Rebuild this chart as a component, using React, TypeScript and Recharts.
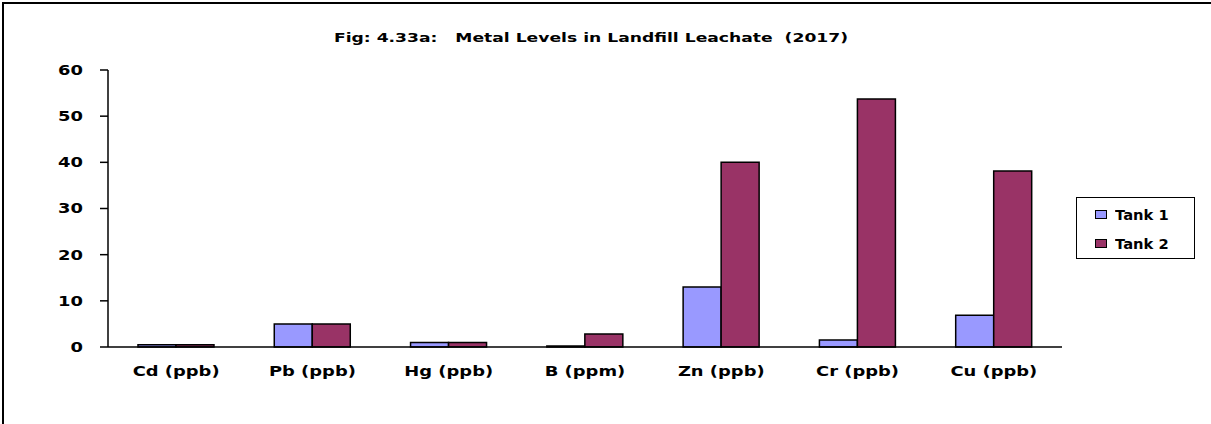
import { BarChart, Bar, XAxis, YAxis } from 'recharts'

const categories = ['Cd (ppb)', 'Pb (ppb)', 'Hg (ppb)', 'B (ppm)', 'Zn (ppb)', 'Cr (ppb)', 'Cu (ppb)']
const tank1 = [0.5, 5, 1, 0.2, 13, 1.5, 6.9]
const tank2 = [0.5, 5, 1, 2.8, 40, 53.7, 38.1]
const yTicks = [0, 10, 20, 30, 40, 50, 60]

const data = categories.map((name, i) => ({ name, tank1: tank1[i], tank2: tank2[i] }))

const FONT = '"DejaVu Sans", sans-serif'
const WIDE = 1.28

// text squeezed wider around its anchor x
function wideText(x: number, y: number, label: string, anchor: 'start' | 'middle' | 'end', size: number, sx = WIDE) {
  return (
    <text
      x={x}
      y={y}
      textAnchor={anchor}
      fontFamily={FONT}
      fontWeight="bold"
      fontSize={size}
      fill="#000"
      transform={`matrix(${sx},0,0,1,${x * (1 - sx)},0)`}
    >
      {label}
    </text>
  )
}

const YTick = (props: any) => wideText(props.x, props.y + 5, String(props.payload.value), 'end', 14)
const XTick = (props: any) => wideText(props.x, props.y + 29, props.payload.value, 'middle', 14)

const legendItems = [
  { label: 'Tank 1', color: '#9999FF' },
  { label: 'Tank 2', color: '#993366' },
]

const LegendBox = () => (
  <div
    style={{
      position: 'absolute',
      left: 1076,
      top: 197,
      border: '1.5px solid #000',
      width: 119,
      height: 62,
      boxSizing: 'border-box',
      background: '#fff',
      paddingTop: 2,
    }}
  >
    {legendItems.map((it) => (
      <div
        key={it.label}
        style={{
          display: 'flex',
          alignItems: 'center',
          height: 29,
          paddingLeft: 18,
          fontFamily: FONT,
          fontWeight: 'bold',
          fontSize: 14,
        }}
      >
        <span style={{ width: 10, height: 7, background: it.color, border: '1px solid #000', marginRight: 8 }} />
        <span style={{ transform: 'scaleX(1.05)', transformOrigin: 'left' }}>{it.label}</span>
      </div>
    ))}
  </div>
)

export default function App() {
  return (
    <div style={{ position: 'absolute', left: 0, top: 0, width: 1211, height: 424, background: '#fff', overflow: 'hidden' }}>
      <div
        style={{
          position: 'absolute',
          left: 2,
          top: 2,
          width: 1300,
          height: 500,
          borderTop: '2px solid #000',
          borderLeft: '2px solid #000',
        }}
      />
      <div
        style={{
          position: 'absolute',
          left: 0,
          width: 1182,
          top: 30,
          textAlign: 'center',
          fontFamily: FONT,
          fontWeight: 'bold',
          fontSize: 13,
          whiteSpace: 'pre',
          transform: 'scaleX(1.32)',
        }}
      >
        {'Fig: 4.33a:   Metal Levels in Landfill Leachate  (2017)'}
      </div>
      <BarChart
        width={1211}
        height={424}
        data={data}
        margin={{ top: 70, right: 149, bottom: 37, left: 0 }}
        barCategoryGap="22%"
        barGap={0}
        style={{ position: 'absolute', left: 0, top: 0 }}
      >
        <XAxis
          dataKey="name"
          height={40}
          tickLine={false}
          tickSize={0}
          tickMargin={0}
          axisLine={{ stroke: '#000', strokeWidth: 1.5 }}
          tick={<XTick />}
          interval={0}
        />
        <XAxis xAxisId="top" dataKey="name" orientation="top" height={0} tick={false} tickLine={false} axisLine={{ stroke: '#000', strokeWidth: 1.5 }} />
        <YAxis
          width={108}
          domain={[0, 60]}
          ticks={yTicks}
          tickSize={8}
          tickMargin={17}
          tickLine={{ stroke: '#000', strokeWidth: 1.5 }}
          axisLine={{ stroke: '#000', strokeWidth: 1.5 }}
          tick={<YTick />}
        />
        <YAxis yAxisId="right" orientation="right" width={0} domain={[0, 60]} tick={false} tickLine={false} axisLine={{ stroke: '#000', strokeWidth: 1.5 }} />
        <Bar dataKey="tank1" name="Tank 1" fill="#9999FF" stroke="#000" strokeWidth={1.5} isAnimationActive={false} />
        <Bar dataKey="tank2" name="Tank 2" fill="#993366" stroke="#000" strokeWidth={1.5} isAnimationActive={false} />
      </BarChart>
      <LegendBox />
    </div>
  )
}
